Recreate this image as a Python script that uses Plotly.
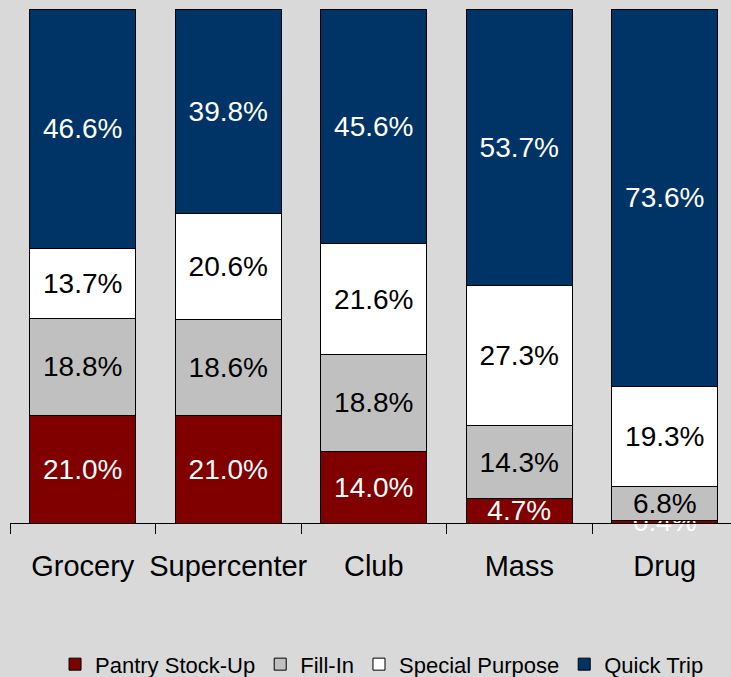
import plotly.graph_objects as go

# Shopping trip mix by retail channel (share of trips, %)
channels = ["Grocery", "Supercenter", "Club", "Mass", "Drug"]
pantry_stock_up = [21.0, 21.0, 14.0, 4.7, 0.4]
fill_in = [18.8, 18.6, 18.8, 14.3, 6.8]
special_purpose = [13.7, 20.6, 21.6, 27.3, 19.3]
quick_trip = [46.6, 39.8, 45.6, 53.7, 73.6]

series = [
    ("Pantry Stock-Up", pantry_stock_up, "#800000", "white"),
    ("Fill-In", fill_in, "#c0c0c0", "black"),
    ("Special Purpose", special_purpose, "#ffffff", "black"),
    ("Quick Trip", quick_trip, "#003366", "white"),
]

FONT = "'Liberation Sans', Arial, sans-serif"
BG = "#d9d9d9"

fig = go.Figure()
for name, values, color, text_color in series:
    fig.add_trace(go.Bar(
        x=channels,
        y=values,
        name=name,
        marker=dict(color=color, line=dict(color="black", width=1)),
        text=[f"{v:.1f}%" for v in values],
        textposition="inside",
        insidetextanchor="middle",
        constraintext="none",
        textangle=0,
        textfont=dict(family=FONT, size=28, color=text_color),
        cliponaxis=False,
        hoverinfo="skip",
    ))

fig.update_layout(
    width=731,
    height=677,
    barmode="stack",
    bargap=0.27,
    paper_bgcolor=BG,
    plot_bgcolor=BG,
    margin=dict(l=10, r=0, t=9, b=154, autoexpand=False),
    font=dict(family=FONT, color="black"),
    showlegend=True,
    legend=dict(
        orientation="h",
        traceorder="normal",
        x=0.516,
        xanchor="center",
        y=-0.275,
        yanchor="middle",
        font=dict(family=FONT, size=22, color="black"),
        bgcolor="rgba(0,0,0,0)",
        itemclick=False,
        itemwidth=30,
    ),
    xaxis=dict(
        type="category",
        range=[-0.5, 4.455],
        automargin=False,
        showline=True,
        linecolor="black",
        linewidth=1,
        ticks="outside",
        tickson="boundaries",
        ticklen=10,
        tickcolor="black",
        tickangle=0,
        ticklabelstandoff=17,
        tickfont=dict(family=FONT, size=29, color="black"),
        showgrid=False,
        zeroline=False,
    ),
    yaxis=dict(
        range=[0, 100.1],
        automargin=False,
        visible=False,
        showgrid=False,
        zeroline=False,
    ),
)

fig.write_html("out.html")
